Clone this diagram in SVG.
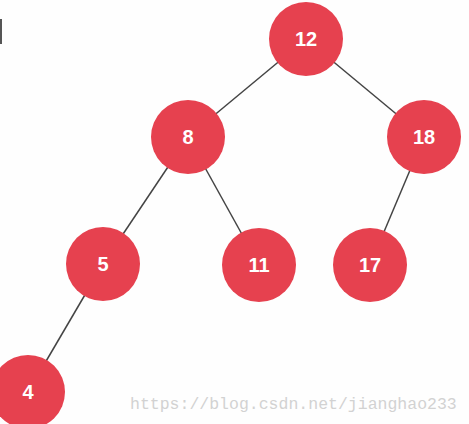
<svg xmlns="http://www.w3.org/2000/svg" width="469" height="424" viewBox="0 0 469 424">
<style>
.n{fill:#E6414F}
.t{fill:#fff;font-family:"Liberation Sans",Arial,sans-serif;font-weight:bold;font-size:20px;text-anchor:middle;dominant-baseline:central}
.e{stroke:#444;stroke-width:1.5;fill:none}
.wm{fill:#d2d2d2;font-family:"Liberation Mono",monospace;font-size:16.5px}
</style>
<rect width="469" height="424" fill="#fefefe"/>
<rect x="0" y="19" width="2" height="25" fill="#555"/>
<g id="edges">
<line class="e" x1="306" y1="39" x2="188" y2="137"/>
<line class="e" x1="306" y1="39" x2="424" y2="137"/>
<line class="e" x1="188" y1="137" x2="103" y2="264"/>
<line class="e" x1="188" y1="137" x2="259" y2="265"/>
<line class="e" x1="424" y1="137" x2="370" y2="265"/>
<line class="e" x1="103" y1="264" x2="28" y2="392"/>
</g>
<g id="n12"><circle class="n" cx="306" cy="39" r="37"/><text class="t" x="306" y="39">12</text></g>
<g id="n8"><circle class="n" cx="188" cy="137" r="37"/><text class="t" x="188" y="137">8</text></g>
<g id="n18"><circle class="n" cx="424" cy="137" r="37"/><text class="t" x="424" y="137">18</text></g>
<g id="n5"><circle class="n" cx="103" cy="264" r="37"/><text class="t" x="103" y="264">5</text></g>
<g id="n11"><circle class="n" cx="259" cy="265" r="37"/><text class="t" x="259" y="265">11</text></g>
<g id="n17"><circle class="n" cx="370" cy="265" r="37"/><text class="t" x="370" y="265">17</text></g>
<g id="n4"><circle class="n" cx="28" cy="392" r="37"/><text class="t" x="28" y="392">4</text></g>
<text class="wm" x="130" y="409">https://blog.csdn.net/jianghao233</text>
</svg>
